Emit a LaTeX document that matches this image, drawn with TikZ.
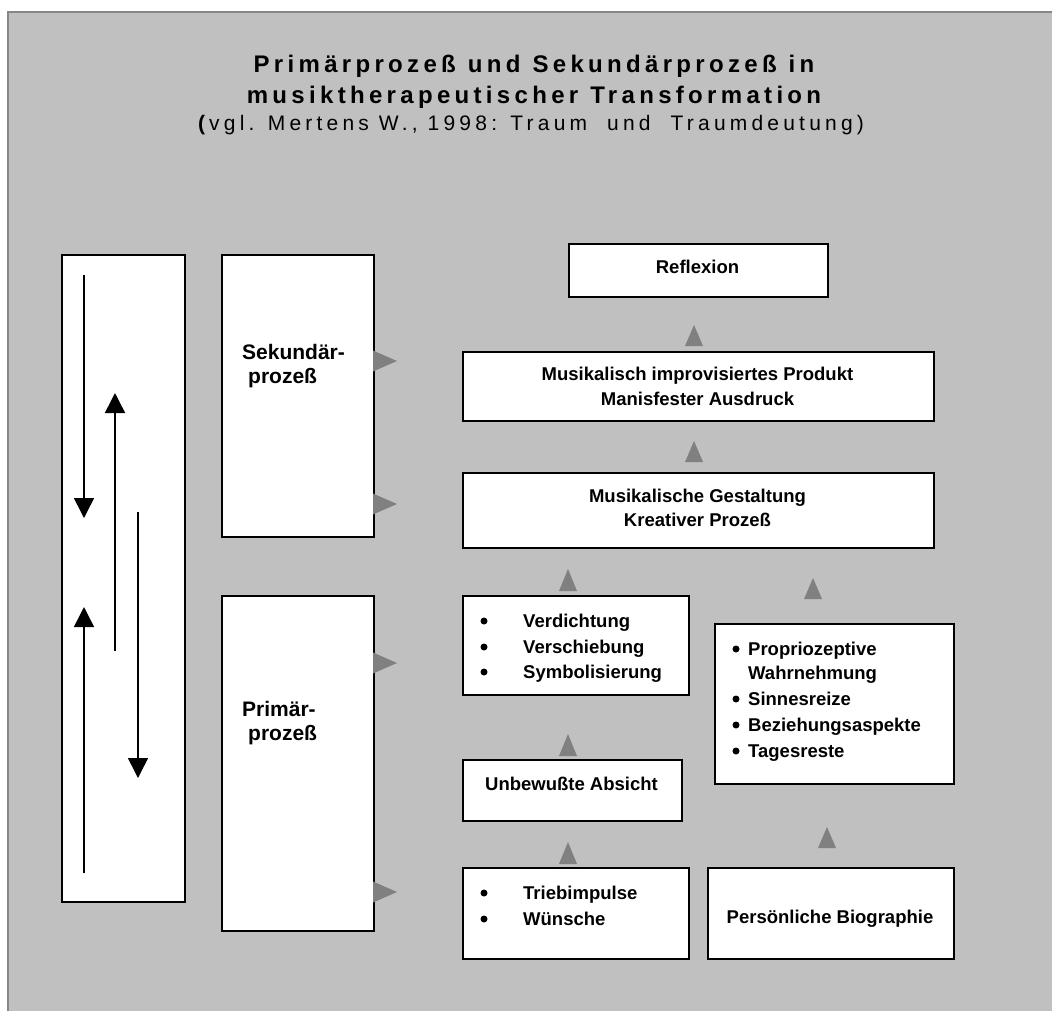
\documentclass[tikz,border=0pt]{standalone}
\usepackage{fontspec}
\setmainfont{Liberation Sans}
\usetikzlibrary{arrows.meta,calc}

\definecolor{bggray}{RGB}{192,192,192}
\definecolor{framegray}{RGB}{135,135,135}
\definecolor{headgray}{RGB}{128,128,128}

% gray arrow heads (no visible shaft)
\newcommand\HeadUp[3]{% centre x, tip y, base y
  \fill[headgray] (#1-9,#3) -- (#1+9,#3) -- (#1,#2) -- cycle;}
\newcommand\HeadRight[2]{% base x, centre y
  \fill[headgray] (#1,#2-10.5) -- (#1,#2+10.5) -- (#1+24,#2) -- cycle;}
% wider gap between the words of the heading
\newcommand\wgap{\hspace{12pt}}

\tikzset{
  box/.style={draw=black, fill=white, line width=1.8pt, inner sep=0pt,
              anchor=north west},
  txt/.style={font=\fontsize{18.5}{25.5}\selectfont\bfseries, inner sep=0pt},
  ctxt/.style={txt, anchor=base},
  ltxt/.style={txt, anchor=base west},
  sidetxt/.style={font=\fontsize{21}{24}\selectfont\bfseries, inner sep=0pt,
                  anchor=base west},
  headline/.style={anchor=base, inner sep=0pt,
        font=\fontsize{24}{31}\selectfont\bfseries\addfontfeatures{LetterSpace=18}},
  subline/.style={anchor=base, inner sep=0pt,
        font=\fontsize{21}{28}\selectfont\addfontfeatures{LetterSpace=20}},
  flow/.style={line width=1.5pt, -{Triangle[length=20pt,width=20pt]}},
  bulletdot/.style={fill=black},
}

\begin{document}
\begin{tikzpicture}[x=1pt,y=-1pt]
  \useasboundingbox (0,0) rectangle (1052,1010);
  \fill[white] (0,0) rectangle (1052,1010);
  % grey panel
  \filldraw[fill=bggray, draw=framegray, line width=2.5pt] (8,12) rectangle (1060,1020);

  % heading
  \node[headline] (t1) at (534,72) {Primärprozeß\wgap und\wgap Sekundärprozeß\wgap in};
  \node[headline] (t2) at (534,103) {musiktherapeutischer\wgap Transformation};
  \node[subline] (t3) at (531,130) {\textbf{(}vgl. Mertens W., 1998: Traum\ \ und\ \ Traumdeutung)};

  % left column
  \node[box, minimum width=123pt, minimum height=647pt] (left) at (61,254) {};
  \node[box, minimum width=152pt, minimum height=282pt] (sek) at (221,254) {};
  \node[box, minimum width=152pt, minimum height=335pt] (prim) at (221,595) {};

  \node[sidetxt] (sek1) at (242,359) {Sekundär-};
  \node[sidetxt] (sek2) at (248,383) {prozeß};
  \node[sidetxt] (prim1) at (242,716) {Primär-};
  \node[sidetxt] (prim2) at (248,740) {prozeß};

  % vertical flow arrows inside the left column
  \coordinate (a1s) at (84,275);  \coordinate (a1e) at (84,518);
  \coordinate (a2s) at (115,651); \coordinate (a2e) at (115,393);
  \coordinate (a3s) at (138,512); \coordinate (a3e) at (138,778);
  \coordinate (a4s) at (84,873);  \coordinate (a4e) at (84,607);
  \draw[flow] (a1s) -- (a1e);
  \draw[flow] (a2s) -- (a2e);
  \draw[flow] (a3s) -- (a3e);
  \draw[flow] (a4s) -- (a4e);

  % right-hand boxes
  \node[box, minimum width=259pt, minimum height=53pt] (refl) at (568,243) {};
  \node[box, minimum width=471pt, minimum height=69pt] (prod) at (462,351) {};
  \node[box, minimum width=471pt, minimum height=75pt] (gest) at (462,472) {};
  \node[box, minimum width=226pt, minimum height=99pt] (verd) at (462,595) {};
  \node[box, minimum width=239pt, minimum height=160pt] (prop) at (714,623) {};
  \node[box, minimum width=219pt, minimum height=61pt] (unbew) at (462,759) {};
  \node[box, minimum width=226pt, minimum height=91pt] (trieb) at (462,867) {};
  \node[box, minimum width=246pt, minimum height=91pt] (bio) at (707,867) {};

  % box texts
  \node[ctxt] (reflT) at (697.5,273) {Reflexion};
  \node[ctxt] (prodT1) at (697.5,380) {Musikalisch improvisiertes Produkt};
  \node[ctxt] (prodT2) at (697.5,405) {Manisfester Ausdruck};
  \node[ctxt] (gestT1) at (697.5,502) {Musikalische Gestaltung};
  \node[ctxt] (gestT2) at (697.5,526) {Kreativer Prozeß};

  \node[ltxt] (verdT1) at (523,627) {Verdichtung};
  \node[ltxt] (verdT2) at (523,653) {Verschiebung};
  \node[ltxt] (verdT3) at (523,678) {Symbolisierung};
  \foreach \yy in {627,653,678} \fill[bulletdot] (484,\yy-6) circle (3.5);

  \node[ltxt] (propT1) at (748,655) {Propriozeptive};
  \node[ltxt] (propT2) at (748,679) {Wahrnehmung};
  \node[ltxt] (propT3) at (748,705) {Sinnesreize};
  \node[ltxt] (propT4) at (748,731) {Beziehungsaspekte};
  \node[ltxt] (propT5) at (748,757) {Tagesreste};
  \foreach \yy in {655,705,731,757} \fill[bulletdot] (736,\yy-6) circle (3.5);

  \node[ctxt] (unbewT) at (571.5,790) {Unbewußte Absicht};

  \node[ltxt] (triebT1) at (523,899) {Triebimpulse};
  \node[ltxt] (triebT2) at (523,925) {Wünsche};
  \foreach \yy in {899,925} \fill[bulletdot] (484,\yy-6) circle (3.5);

  \node[ctxt] (bioT) at (830,923) {Persönliche Biographie};

  % grey heads pointing upwards between the stages
  \HeadUp{694}{325}{346}
  \HeadUp{694}{441}{462}
  \HeadUp{568}{569}{591}
  \HeadUp{813}{578}{599}
  \HeadUp{568}{734}{756}
  \HeadUp{568}{842}{864}
  \HeadUp{827}{827}{848}

  % grey heads pointing from the process boxes to the right
  \HeadRight{373}{361}
  \HeadRight{373}{504}
  \HeadRight{373}{663}
  \HeadRight{373}{892}
\end{tikzpicture}
\end{document}
